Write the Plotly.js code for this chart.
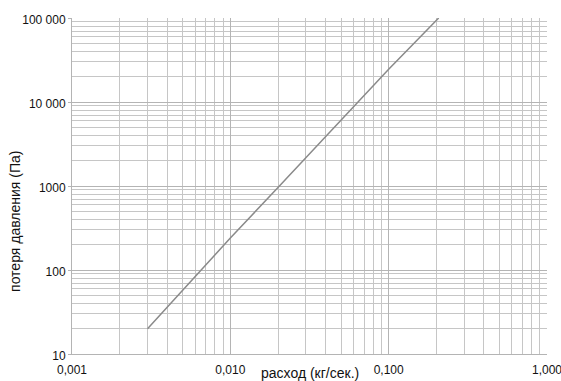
<!DOCTYPE html>
<html>
<head>
<meta charset="utf-8">
<script src="https://cdn.plot.ly/plotly-3.0.1.min.js"></script>
<style>html,body{margin:0;padding:0;background:#fff;}#chart{width:561px;height:381px;}</style>
</head>
<body>
<div id="chart"></div>
<script>
// Data
const flow = [0.003, 0.01, 0.02, 0.05, 0.1, 0.207];          // расход (кг/сек.)
const pressureLoss = [20, 240, 960, 6100, 24500, 100000];    // потеря давления (Па)

// Tick values / labels
const xTickVals = [0.001, 0.01, 0.1, 1];
const xTickText = ['0,001', '0,010', '0,100', '1,000'];
const yTickVals = [10, 100, 1000, 10000, 100000];
const yTickText = ['10', '100', '1000', '10 000', '100 000'];
const xMinorVals = [];
[0.001, 0.01, 0.1].forEach(d => { for (let k = 2; k <= 9; k++) xMinorVals.push(d * k); });
const yMinorVals = [];
[10, 100, 1000, 10000].forEach(d => { for (let k = 2; k <= 9; k++) yMinorVals.push(d * k); });

const font = {family: 'Liberation Sans, Arial, sans-serif', size: 12, color: '#111'};
const titleFont = {family: font.family, size: 14, color: '#111'};

const trace = {
  x: flow, y: pressureLoss, type: 'scatter', mode: 'lines',
  line: {color: '#8a8a8a', width: 1.5}, hoverinfo: 'skip'
};

const layout = {
  width: 561, height: 381,
  margin: {l: 72, r: 14, t: 18, b: 27},
  paper_bgcolor: '#fff', plot_bgcolor: '#fff',
  showlegend: false,
  font: font,
  xaxis: {
    type: 'log', range: [-3, 0],
    tickmode: 'array', tickvals: xTickVals, ticktext: xTickText,
    showgrid: true, gridcolor: '#b4b4b4', gridwidth: 1,
    minor: {tickmode: 'array', tickvals: xMinorVals, showgrid: true, gridcolor: '#c6c6c6', gridwidth: 1, ticks: ''},
    showline: true, linecolor: '#b4b4b4', linewidth: 1,
    zeroline: false, ticks: '', ticklen: 0,
    ticklabeloverflow: 'allow', ticklabelstandoff: 5,
    tickfont: font
  },
  yaxis: {
    type: 'log', range: [1, 5],
    tickmode: 'array', tickvals: yTickVals, ticktext: yTickText,
    showgrid: true, gridcolor: '#b4b4b4', gridwidth: 1,
    minor: {tickmode: 'array', tickvals: yMinorVals, showgrid: true, gridcolor: '#c6c6c6', gridwidth: 1, ticks: ''},
    showline: true, linecolor: '#b4b4b4', linewidth: 1,
    zeroline: false, ticks: 'outside', ticklen: 3, tickcolor: '#b4b4b4',
    ticklabelshift: 2, ticklabeloverflow: 'allow',
    tickfont: font
  },
  annotations: [{
    text: 'расход (кг/сек.)', xref: 'paper', yref: 'paper', x: 0.5, y: 0,
    xanchor: 'center', yanchor: 'middle', yshift: -19, showarrow: false,
    font: titleFont
  }, {
    text: 'потеря давления (Па)', xref: 'paper', yref: 'paper', x: -0.12, y: 0.393,
    xanchor: 'center', yanchor: 'middle', textangle: -90, showarrow: false,
    font: titleFont
  }]
};

Plotly.newPlot('chart', [trace], layout, {staticPlot: true, displayModeBar: false});
</script>
</body>
</html>
